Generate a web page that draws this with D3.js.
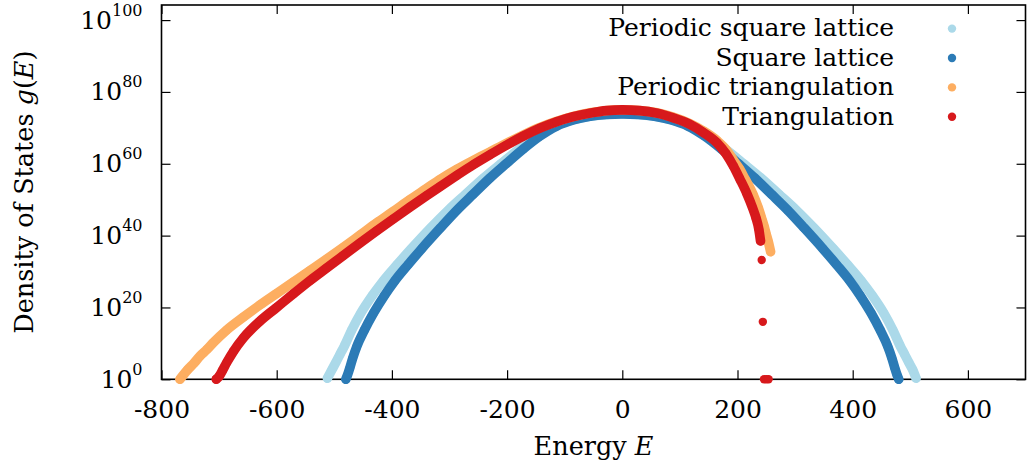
<!DOCTYPE html>
<html>
<head>
<meta charset="utf-8">
<style>
body { margin: 0; background: #fff; }
svg text { font-family: "DejaVu Serif", "Liberation Serif", "Noto Serif", serif; fill: #000; }
</style>
</head>
<body>
<svg width="1035" height="471"></svg>
<script src="https://d3js.org/d3.v7.min.js"></script>
<script>
// tick values
var xTicks = [-800, -600, -400, -200, 0, 200, 400, 600];
var yTickExps = [0, 20, 40, 60, 80, 100];

var seriesNames = ["Periodic square lattice", "Square lattice", "Periodic triangulation", "Triangulation"];
var seriesColors = ["#abd9e9", "#2c7bb6", "#fdae61", "#d7191c"];

// [energy E, log10 g(E)]
var periodicSquare = [[-512,0.3],[-504,2.7],[-497,4.8],[-490,7],[-483,9.1],[-470,13.6],[-454,18.4],[-434,23.3],
  [-415,27.4],[-391,31.9],[-366,36.4],[-333,42.1],[-302,47.1],[-272,51.5],[-241,56],[-210,60.1],[-179,64.1],
  [-148,67.7],[-117,70.5],[-87,72.2],[-57,73.2],[-28,73.7],[0,74],[28,73.7],[57,73.2],[87,72.2],[117,70.5],
  [148,67.7],[179,64.1],[210,60.1],[241,56],[272,51.5],[302,47.1],[333,42.1],[366,36.4],[391,31.9],[415,27.4],
  [434,23.3],[454,18.4],[470,13.6],[483,9.1],[490,7],[497,4.8],[504,2.7],[510,0.3]];

var square = [[-480,0],[-477,1.2],[-473,3.2],[-468,5.9],[-461,9.1],[-448,13.6],[-432,18.4],[-413,23.3],
  [-395,27.4],[-372,31.9],[-348,36.4],[-316,42.1],[-287,47.1],[-259,51.5],[-230,56],[-201,60.1],[-172,64.1],
  [-143,67.7],[-114,70.5],[-85,72.2],[-56,73.2],[-28,73.7],[0,73.9],[28,73.7],[56,73.2],[85,72.2],[114,70.5],
  [143,67.7],[172,64.1],[201,60.1],[230,56],[259,51.5],[287,47.1],[316,42.1],[348,36.4],[372,31.9],[395,27.4],
  [413,23.3],[432,18.4],[448,13.6],[461,9.1],[468,5.9],[473,3.2],[477,1.2],[480,0]];

var periodicTri = [[-768,0],[-755,2.6],[-743,4.6],[-733,6.5],[-721,8.3],[-710,10.2],[-687,13.7],[-658,17.3],
  [-629,20.7],[-600,23.9],[-571,27.1],[-542,30.3],[-513,33.5],[-484,36.8],[-455,40.2],[-426,43.6],[-398,46.7],
  [-369,50],[-340,53.1],[-316,55.7],[-287,58.5],[-258,61],[-230,63.3],[-201,65.7],[-172,68],[-143,70.1],
  [-114,71.8],[-85,73.2],[-56,74.2],[-27,74.85],[0,75.05],[30,74.85],[60,74.2],[88,73],[117,71.2],[140,69.2],
  [164,66.5],[181,63.8],[193,61],[204,58.5],[213,55.8],[227,51.5],[236,47.8],[242,44.8],[246,42.7],
  [249.5,40.6],[253.5,38.3],[257.5,35.5]];

var tri = [[-705,0],[-700,0.8],[-694,2.5],[-687,4.6],[-675,7.8],[-658,11.5],[-629,16.2],[-600,20],[-571,23.8],
  [-542,27.5],[-513,31],[-484,34.5],[-455,38],[-426,41.4],[-398,44.6],[-369,47.9],[-340,51.1],[-316,53.7],
  [-287,56.8],[-258,59.8],[-230,62.5],[-201,65.2],[-172,67.7],[-143,69.9],[-114,71.7],[-85,73.1],[-56,74.1],
  [-27,74.8],[0,75],[30,74.8],[60,74.1],[88,72.8],[117,71],[140,68.8],[164,65.9],[180,62.8],[193,59.3],
  [204,55.8],[216,51.8],[226,47.8],[232,45],[237,41.8],[240,38.5]];

// the loose red points at the right end
var triIsolated = [[242,33.2],[244,16],[246,0],[250,0],[254,0]];

var series = [periodicSquare, square, periodicTri, tri];

var svg = d3.select("svg");

var x = d3.scaleLinear()
    .domain([-800, 700])
    .range([161.5, 1025.5]);
var y = d3.scaleLinear()
    .domain([0, 104.2])
    .range([379.3, 5]);

// frame
svg.append("rect")
    .attr("x", x.range()[0])
    .attr("y", y.range()[1])
    .attr("width", x.range()[1] - x.range()[0])
    .attr("height", y.range()[0] - y.range()[1])
    .attr("fill", "none")
    .attr("stroke", "#000")
    .attr("stroke-width", 1.6);

function styleAxis(g) {
  g.select(".domain").remove();
  g.attr("font-family", null).attr("font-size", 25);
  g.selectAll(".tick line").attr("stroke", "#000").attr("stroke-width", 1.2);
}

svg.append("g")
    .attr("transform", "translate(0," + y.range()[0] + ")")
    .call(d3.axisBottom(x).tickValues(xTicks).tickSize(-9).tickPadding(21)
      .tickFormat(function(d) { return String(d); }))
    .call(styleAxis);

svg.append("g")
    .attr("transform", "translate(0," + y.range()[1] + ")")
    .call(d3.axisTop(x).tickValues(xTicks).tickSize(-9).tickFormat(""))
    .call(styleAxis);

var yAxis = svg.append("g")
    .attr("transform", "translate(" + x.range()[0] + ",0)")
    .call(d3.axisLeft(y).tickValues(yTickExps).tickSize(-9).tickPadding(19))
    .call(styleAxis);
yAxis.selectAll(".tick text").each(function(d) {
  var t = d3.select(this).text("10");
  t.append("tspan").attr("dy", -13).attr("font-size", 16).text(d);
});

svg.append("g")
    .attr("transform", "translate(" + x.range()[1] + ",0)")
    .call(d3.axisRight(y).tickValues(yTickExps).tickSize(-9).tickFormat(""))
    .call(styleAxis);

// data: thick line through the points plus the dots themselves
var line = d3.line()
    .x(function(d) { return x(d[0]); })
    .y(function(d) { return y(d[1]); })
    .curve(d3.curveMonotoneX);

var plot = svg.append("g");
series.forEach(function(s, i) {
  plot.append("path")
      .datum(s)
      .attr("d", line)
      .attr("fill", "none")
      .attr("stroke", seriesColors[i])
      .attr("stroke-width", 9.6)
      .attr("stroke-linecap", "round")
      .attr("stroke-linejoin", "round");
  plot.selectAll(null)
      .data(s)
    .enter().append("circle")
      .attr("cx", function(d) { return x(d[0]); })
      .attr("cy", function(d) { return y(d[1]); })
      .attr("r", 4.4)
      .attr("fill", seriesColors[i]);
});
plot.selectAll(null)
    .data(triIsolated)
  .enter().append("circle")
    .attr("cx", function(d) { return x(d[0]); })
    .attr("cy", function(d) { return y(d[1]); })
    .attr("r", 4.2)
    .attr("fill", seriesColors[3]);

// legend
var legend = svg.append("g");
seriesNames.forEach(function(name, i) {
  var base = 36.4 + i * 29.4;
  legend.append("text")
      .attr("x", 894)
      .attr("y", base)
      .attr("text-anchor", "end")
      .attr("font-size", 25)
      .text(name);
  legend.append("circle")
      .attr("cx", 952)
      .attr("cy", base - 7.8)
      .attr("r", 4.2)
      .attr("fill", seriesColors[i]);
});

// axis titles
var xt = svg.append("text")
    .attr("x", (x.range()[0] + x.range()[1]) / 2)
    .attr("y", 455)
    .attr("text-anchor", "middle")
    .attr("font-size", 25.5)
    .text("Energy ");
xt.append("tspan").attr("font-style", "italic").text("E");

var yt = svg.append("text")
    .attr("transform", "translate(33," + (y.range()[0] + y.range()[1]) / 2 + ") rotate(-90)")
    .attr("text-anchor", "middle")
    .attr("font-size", 25.5)
    .text("Density of States ");
yt.append("tspan").attr("font-style", "italic").text("g");
yt.append("tspan").text("(");
yt.append("tspan").attr("font-style", "italic").text("E");
yt.append("tspan").text(")");
</script>
</body>
</html>
